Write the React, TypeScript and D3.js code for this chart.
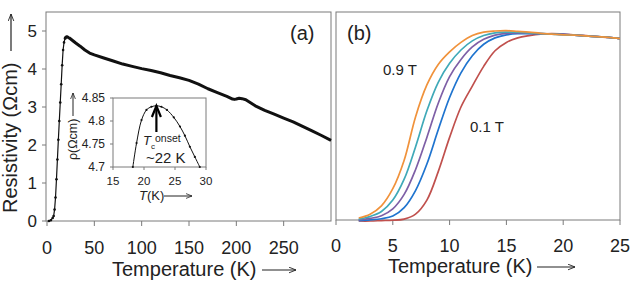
import * as d3 from "d3";

// panel (a): resistivity vs temperature, 0 T
const tempA = [2, 4, 6, 7, 8, 9, 10, 11, 12, 13, 14, 15, 16, 17, 18, 19, 20, 21, 22, 23, 24, 26, 28, 30, 35, 40, 45, 50, 60, 70, 80, 90, 100, 110, 120, 130, 140, 150, 160, 170, 180, 190, 196, 198, 200, 203, 206, 210, 220, 230, 240, 250, 260, 270, 280, 290, 300];
const rhoA = [0.0, 0.02, 0.08, 0.13, 0.3, 0.62, 1.1, 1.62, 2.14, 2.63, 3.12, 3.6, 4.1, 4.5, 4.7, 4.8, 4.84, 4.85, 4.84, 4.82, 4.81, 4.77, 4.73, 4.69, 4.6, 4.5, 4.42, 4.37, 4.29, 4.21, 4.13, 4.07, 4.01, 3.96, 3.9, 3.83, 3.77, 3.7, 3.6, 3.48, 3.38, 3.28, 3.21, 3.2, 3.21, 3.23, 3.22, 3.19, 3.03, 2.91, 2.81, 2.71, 2.61, 2.49, 2.37, 2.25, 2.12];

// inset: zoom on the onset
const tempInset = [18.2, 18.8, 19.6, 20.4, 21.2, 22.0, 22.8, 23.7, 24.8, 25.8, 26.6, 27.4, 28.2, 29.0];
const rhoInset = [4.7, 4.752, 4.802, 4.824, 4.831, 4.833, 4.831, 4.824, 4.808, 4.788, 4.768, 4.744, 4.722, 4.7];

// panel (b): field series
const tempB = [2, 3, 4, 5, 6, 7, 8, 9, 10, 11, 12, 13, 14, 15, 16, 17, 18, 19, 20, 21, 22, 23, 24, 25];
const rho01T = [0.0, 0.0, 0.01, 0.02, 0.05, 0.18, 0.55, 1.3, 2.2, 3.0, 3.55, 4.07, 4.48, 4.7, 4.82, 4.88, 4.92, 4.93, 4.92, 4.9, 4.88, 4.85, 4.83, 4.8];
const rho03T = [0.01, 0.03, 0.06, 0.13, 0.35, 0.8, 1.5, 2.4, 3.25, 3.9, 4.35, 4.65, 4.82, 4.9, 4.93, 4.93, 4.93, 4.92, 4.91, 4.89, 4.87, 4.85, 4.83, 4.8];
const rho05T = [0.03, 0.07, 0.14, 0.32, 0.7, 1.35, 2.2, 3.1, 3.8, 4.25, 4.58, 4.78, 4.89, 4.94, 4.95, 4.94, 4.93, 4.92, 4.91, 4.89, 4.87, 4.85, 4.83, 4.8];
const rho07T = [0.05, 0.12, 0.25, 0.55, 1.1, 1.95, 2.9, 3.65, 4.15, 4.5, 4.74, 4.88, 4.95, 4.97, 4.97, 4.95, 4.93, 4.92, 4.9, 4.89, 4.87, 4.85, 4.83, 4.8];
const rho09T = [0.08, 0.18, 0.4, 0.85, 1.6, 2.74, 3.58, 4.12, 4.45, 4.7, 4.88, 4.97, 5.0, 5.01, 4.99, 4.97, 4.94, 4.92, 4.9, 4.89, 4.87, 4.85, 4.83, 4.8];
const seriesB = [rho01T, rho03T, rho05T, rho07T, rho09T];
const colorsB = ["#C0504D", "#1F74CF", "#7E5FA6", "#3FA9B8", "#F0923B"];

const ticksA = [0, 50, 100, 150, 200, 250];
const ticksAy = [0, 1, 2, 3, 4, 5];
const ticksInsetX = [15, 20, 25, 30];
const ticksInsetY = [4.7, 4.75, 4.8, 4.85];
const ticksB = [0, 5, 10, 15, 20, 25];

const font = "'Liberation Sans', Arial, sans-serif";
const ink = "#222";
const frame = "#7a7a7a";

export default function App() {
  const xA = d3.scaleLinear().domain([0, 300]).range([47, 331]);
  const yA = d3.scaleLinear().domain([0, 5.5]).range([221, 12]);
  const xIn = d3.scaleLinear().domain([15, 30]).range([113, 206]);
  const yIn = d3.scaleLinear().domain([4.7, 4.85]).range([167, 98]);
  const xB = d3.scaleLinear().domain([0, 25]).range([336, 620]);
  const yB = d3.scaleLinear().domain([0, 5.5]).range([221, 12]);

  const ptsA = tempA.map((t, i) => [t, rhoA[i]] as [number, number]);
  const lineA = d3.line<[number, number]>().x((d) => xA(d[0])).y((d) => yA(d[1]));
  const ptsIn = tempInset.map((t, i) => [t, rhoInset[i]] as [number, number]);
  const lineIn = d3.line<[number, number]>().x((d) => xIn(d[0])).y((d) => yIn(d[1])).curve(d3.curveCatmullRom);
  const lineB = d3.line<number>().x((d, i) => xB(tempB[i])).y((d) => yB(d)).curve(d3.curveCatmullRom);
  const arrowX = xIn(22);

  return (
    <svg width={633} height={282} style={{ position: "absolute", left: 0, top: 0, background: "#fff" }} fontFamily={font}>
      <defs>
        <marker id="ah" viewBox="0 0 10 10" refX="10" refY="5" markerWidth="7" markerHeight="7" orient="auto-start-reverse" markerUnits="userSpaceOnUse">
          <path d="M0,1 L10,5 L0,9" fill="none" stroke={ink} strokeWidth={1.3} />
        </marker>
        <marker id="ahs" viewBox="0 0 10 10" refX="10" refY="5" markerWidth="6" markerHeight="6" orient="auto-start-reverse" markerUnits="userSpaceOnUse">
          <path d="M0,1 L10,5 L0,9" fill="none" stroke={ink} strokeWidth={1.3} />
        </marker>
      </defs>

      {/* ---------- panel (a) ---------- */}
      <rect x={46} y={12} width={285} height={209} fill="none" stroke={frame} strokeWidth={1} />
      {ticksAy.map((v) => (
        <g key={"ya" + v}>
          <line x1={42} x2={46} y1={yA(v)} y2={yA(v)} stroke={frame} />
          <text x={37} y={yA(v) + 6} textAnchor="end" fontSize={17} fill={ink}>{v}</text>
        </g>
      ))}
      {ticksA.map((v) => (
        <g key={"xa" + v}>
          <line x1={xA(v)} x2={xA(v)} y1={221} y2={226} stroke={frame} />
          <text x={xA(v)} y={254} textAnchor="middle" fontSize={18} fill={ink}>{v}</text>
        </g>
      ))}
      <path d={lineA(ptsA) ?? ""} fill="none" stroke="#111" strokeWidth={1.2} />
      <path d={lineA(ptsA.filter((d) => d[0] >= 19)) ?? ""} fill="none" stroke="#111" strokeWidth={3} strokeLinejoin="round" />
      {ptsA.filter((d) => d[0] < 20).map((d, i) => (
        <circle key={"pa" + i} cx={xA(d[0])} cy={yA(d[1])} r={1.3} fill="#111" />
      ))}
      <text x={290} y={40} fontSize={20} fill={ink}>(a)</text>

      <text transform="translate(16.5,213) rotate(-90)" fontSize={20} fill={ink}>Resistivity (Ωcm)</text>
      <line x1={11} x2={11} y1={51} y2={14} stroke={ink} strokeWidth={1.2} markerEnd="url(#ah)" />
      <text x={112} y={276} fontSize={20} fill={ink}>Temperature (K)</text>
      <line x1={262} x2={296} y1={270} y2={270} stroke={ink} strokeWidth={1.2} markerEnd="url(#ah)" />

      {/* inset */}
      <rect x={113} y={98} width={93} height={69} fill="#fff" stroke={frame} strokeWidth={1} />
      {ticksInsetY.map((v) => (
        <g key={"yi" + v}>
          <line x1={110} x2={113} y1={yIn(v)} y2={yIn(v)} stroke={frame} />
          <text x={105} y={yIn(v) + 4} textAnchor="end" fontSize={12} fill={ink}>{v}</text>
        </g>
      ))}
      {ticksInsetX.map((v) => (
        <g key={"xi" + v}>
          <line x1={xIn(v)} x2={xIn(v)} y1={167} y2={170} stroke={frame} />
          <text x={xIn(v)} y={185} textAnchor="middle" fontSize={11.5} fill={ink}>{v}</text>
        </g>
      ))}
      <path d={lineIn(ptsIn) ?? ""} fill="none" stroke="#111" strokeWidth={1} />
      {ptsIn.map((d, i) => (
        <circle key={"pi" + i} cx={xIn(d[0])} cy={yIn(d[1])} r={1.1} fill="#111" />
      ))}
      <line x1={arrowX} x2={arrowX} y1={132} y2={108} stroke="#000" strokeWidth={2.2} />
      <path d={`M${arrowX - 4.5},117 L${arrowX},106 L${arrowX + 4.5},117`} fill="none" stroke="#000" strokeWidth={2.2} />
      <text x={143} y={145} fontSize={13} fill={ink}>
        <tspan fontStyle="italic">T</tspan>
        <tspan fontSize={8} dy={4}>c</tspan>
        <tspan fontSize={10.5} dy={-7}>onset</tspan>
      </text>
      <text x={146} y={163} fontSize={15} fill={ink}>~22 K</text>
      <text transform="translate(77,160) rotate(-90)" fontSize={12.5} fill={ink}>ρ(Ωcm)</text>
      <line x1={73} x2={73} y1={116} y2={93} stroke={ink} strokeWidth={1} markerEnd="url(#ahs)" />
      <text x={139} y={200} fontSize={13} fill={ink}><tspan fontStyle="italic">T</tspan>(K)</text>
      <line x1={164} x2={192} y1={196} y2={196} stroke={ink} strokeWidth={1} markerEnd="url(#ahs)" />

      {/* ---------- panel (b) ---------- */}
      <rect x={336} y={12} width={284} height={208} fill="none" stroke={frame} strokeWidth={1} />
      {ticksB.map((v) => (
        <g key={"xb" + v}>
          <line x1={xB(v)} x2={xB(v)} y1={220} y2={225} stroke={frame} />
          <text x={xB(v)} y={252} textAnchor="middle" fontSize={18} fill={ink}>{v}</text>
        </g>
      ))}
      {seriesB.map((s, i) => (
        <path key={"sb" + i} d={lineB(s) ?? ""} fill="none" stroke={colorsB[i]} strokeWidth={1.7} />
      ))}
      <text x={347} y={40} fontSize={20} fill={ink}>(b)</text>
      <text x={383} y={75} fontSize={15} fill={ink}>0.9 T</text>
      <text x={470} y={132} fontSize={15} fill={ink}>0.1 T</text>
      <text x={388} y={273} fontSize={20} fill={ink}>Temperature (K)</text>
      <line x1={537} x2={575} y1={267} y2={267} stroke={ink} strokeWidth={1.2} markerEnd="url(#ah)" />
    </svg>
  );
}
